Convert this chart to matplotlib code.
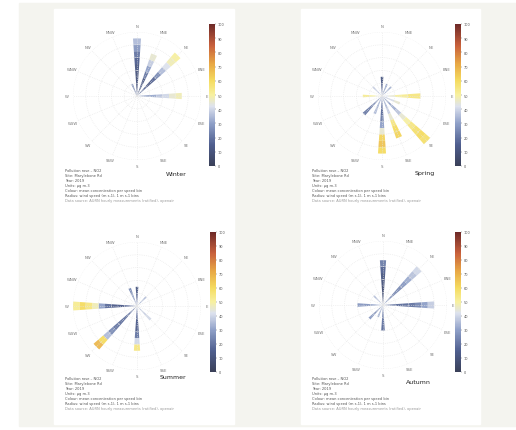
import numpy as np
import matplotlib
matplotlib.use("Agg")
import matplotlib.pyplot as plt
from matplotlib.colors import LinearSegmentedColormap, Normalize
from matplotlib.patches import Rectangle
from matplotlib.colorbar import ColorbarBase

W, H = 516, 431

seasons = ["Winter", "Spring", "Summer", "Autumn"]
directions = ["N", "NNE", "NE", "ENE", "E", "ESE", "SE", "SSE",
              "S", "SSW", "SW", "WSW", "W", "WNW", "NW", "NNW"]

# per-season spokes: direction -> values in consecutive 1-unit radial bins
winter_dirs = ["N", "NNE", "NE", "E", "NNW"]
winter_vals = [[12, 10, 10, 10, 12, 15, 20, 28, 35],
               [12, 12, 12, 20, 30, 38, 45],
               [18, 15, 12, 15, 25, 35, 42, 48, 50],
               [28, 28, 32, 36, 40, 45, 48],
               [20, 25]]

spring_dirs = ["N", "NNE", "NE", "E", "ESE", "SE", "SSE", "S", "SSW", "SW", "W", "NW"]
spring_vals = [[18, 14, 12],
               [25, 30],
               [30, 32],
               [40, 45, 50, 52, 55, 55],
               [35, 40, 45],
               [28, 28, 32, 36, 45, 50, 55, 58, 60, 58],
               [28, 32, 38, 45, 55, 60, 62],
               [22, 18, 18, 22, 30, 45, 62, 66, 60],
               [30, 32, 35],
               [28, 25, 22, 20],
               [45, 50, 52],
               [35, 38]]

summer_dirs = ["N", "NNW", "NE", "SE", "S", "SW", "W"]
summer_vals = [[18, 14, 12],
               [30, 28, 25],
               [32, 35],
               [35, 38, 40],
               [18, 16, 14, 14, 20, 40, 55],
               [22, 20, 18, 18, 20, 25, 35, 60, 68],
               [18, 16, 14, 14, 18, 30, 48, 55, 60, 52]]

autumn_dirs = ["N", "NE", "E", "W", "SW", "S", "NW", "SSW"]
autumn_vals = [[10, 8, 8, 10, 12, 16, 22],
               [28, 26, 24, 24, 28, 32, 36, 40],
               [22, 20, 18, 18, 20, 24, 30, 38],
               [32, 30, 28, 28],
               [28, 26, 28],
               [26, 22, 20, 18],
               [35, 35],
               [30, 32]]

season_dirs = [winter_dirs, spring_dirs, summer_dirs, autumn_dirs]
season_vals = [winter_vals, spring_vals, summer_vals, autumn_vals]

cbar_ticks = [0, 10, 20, 30, 40, 50, 60, 70, 80, 90, 100]

info_lines = ["Pollution rose \u2013 NO2",
              "Site: Marylebone Rd",
              "Year: 2019",
              "Units: \u00b5g m-3",
              "Colour: mean concentration per speed bin",
              "Radius: wind speed (m s-1), 1 m s-1 bins",
              "Data source: AURN hourly measurements (ratified), openair"]

cmap = LinearSegmentedColormap.from_list("rose", [
    (0.0, "#3a4058"), (0.15, "#4f5f8f"), (0.30, "#8fa0c8"), (0.42, "#dde2ee"),
    (0.50, "#f7f0a0"), (0.60, "#f5dc60"), (0.72, "#e8a845"), (0.85, "#c8603c"),
    (1.0, "#6e2a28")])
norm = Normalize(0, 100)

fig = plt.figure(figsize=(W / 100, H / 100), dpi=100)
fig.patch.set_facecolor("white")
fig.patches.append(Rectangle((19 / W, 1 - 427 / H), (W - 19) / W, 423 / H,
                             transform=fig.transFigure, color="#f4f4ef", zorder=-5))
for x0, x1 in [(54, 234), (301, 480)]:
    fig.patches.append(Rectangle((x0 / W, 1 - 425 / H), (x1 - x0) / W, 415 / H,
                                 transform=fig.transFigure, color="white", zorder=-4))

centers = [(137, 97), (382, 97), (137, 307), (383, 306)]
cbar_x = [209, 455, 210, 455]
cbar_y = [(25, 167), (25, 167), (233, 373), (233, 373)]
label_pos = [(176, 174), (425, 174), (173, 378), (418, 382)]
text_x = [65, 312, 65, 312]
text_y = [171, 171, 379, 379]
R = 64

ang = {d: np.deg2rad(i * 22.5) for i, d in enumerate(directions)}

for k in range(4):
    cx, cy = centers[k]
    ax = fig.add_axes([(cx - R) / W, 1 - (cy + R) / H, 2 * R / W, 2 * R / H],
                      projection="polar")
    ax.set_theta_zero_location("N")
    ax.set_theta_direction(-1)
    ax.set_facecolor("none")
    ax.set_ylim(0, 10)
    ax.set_yticks([2, 4, 6, 8, 10])
    ax.set_yticklabels([])
    ax.set_xticks([ang[d] for d in directions])
    ax.set_xticklabels([])
    ax.grid(True, color="#e6e6e6", linestyle=":", linewidth=0.5)
    ax.spines["polar"].set_visible(False)
    ax.set_rmax(10)
    for d in directions:
        ax.text(ang[d], 10.9, d, fontsize=2.8, color="#777777",
                ha="center", va="center", clip_on=False)
    for d, vals in zip(season_dirs[k], season_vals[k]):
        for i, v in enumerate(vals):
            ax.bar(ang[d], 1, bottom=i, width=0.14, color=cmap(norm(v)),
                   edgecolor="none", alpha=0.95, align="center")
    ax.set_ylim(0, 10)

    y0, y1 = cbar_y[k]
    cax = fig.add_axes([cbar_x[k] / W, 1 - y1 / H, 6 / W, (y1 - y0) / H])
    cb = ColorbarBase(cax, cmap=cmap, norm=norm, ticks=cbar_ticks)
    cb.outline.set_visible(False)
    cax.tick_params(labelsize=2.5, length=1, width=0.3, pad=1, colors="#555555")

    fig.text(label_pos[k][0] / W, 1 - label_pos[k][1] / H, seasons[k],
             fontsize=4.5, ha="center", va="center", color="#222222")
    for j, line in enumerate(info_lines):
        fig.text(text_x[k] / W, 1 - (text_y[k] + j * 5) / H, line, fontsize=2.6,
                 ha="left", va="center",
                 color="#555555" if j < len(info_lines) - 1 else "#999999")

fig.savefig("out.png", dpi=100)
